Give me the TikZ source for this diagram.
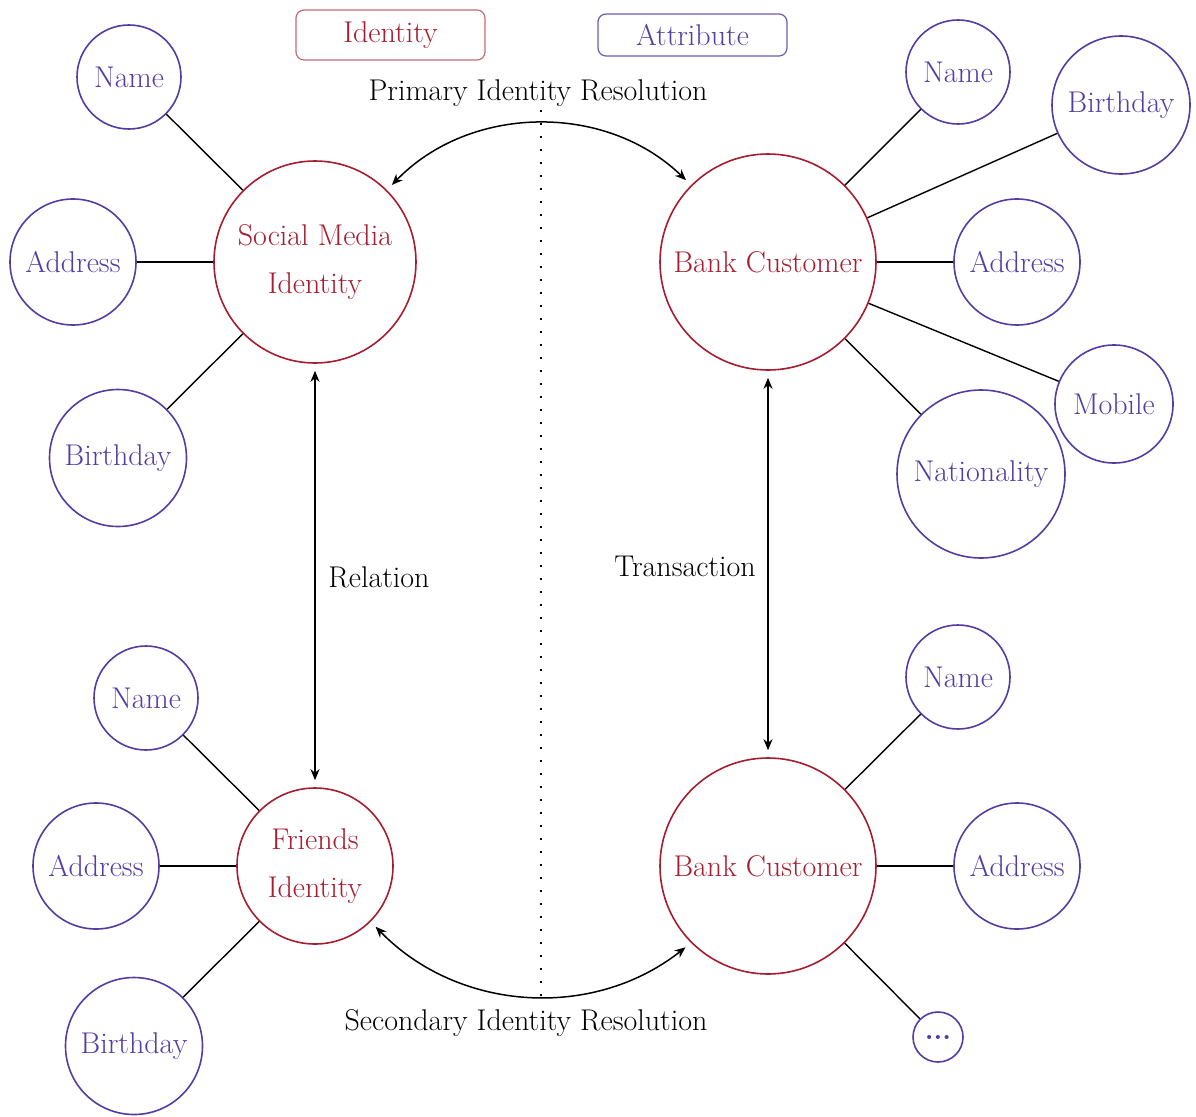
\documentclass[tikz,border=0pt]{standalone}
\usetikzlibrary{arrows.meta}
\definecolor{idred}{RGB}{166,28,48}
\definecolor{attrpurple}{RGB}{84,60,162}
\newcommand\bodyfont{\fontsize{30}{48}\selectfont}
\newcommand\morefont{\fontsize{28}{30}\selectfont\bfseries}
\begin{document}
\begin{tikzpicture}[x=1pt,y=-1pt,
  identity/.style={circle,draw=idred,text=idred,line width=1.6pt,inner sep=0pt,align=center,font=\bodyfont},
  attr/.style={circle,draw=attrpurple,text=attrpurple,line width=1.6pt,inner sep=0pt,font=\bodyfont},
  link/.style={line width=1.4pt},
  tip/.tip={Stealth[length=11pt,width=9pt,inset=3.5pt]},
  rel/.style={line width=1.5pt,tip-tip,shorten <=7pt,shorten >=7pt},
  caption/.style={font=\bodyfont,inner sep=0pt},
  legend/.style={rounded corners=8pt,line width=1.2pt,minimum width=189pt,font=\bodyfont}]
\useasboundingbox (0,0) rectangle (1196,1116);

% divider between the two sources
\coordinate (dtop) at (541,110);
\coordinate (dbot) at (541,1003);
\draw[line width=1.8pt,dash pattern=on 1.6pt off 11.4pt] (dtop) -- (dbot);

% legend
\node[legend,draw=idred!65,text=idred,minimum height=50pt] (legid) at (390.5,35) {Identity};
\node[legend,draw=attrpurple!85,text=attrpurple,minimum height=42pt] (legattr) at (692.5,35) {Attribute};

% identities
\node[identity,minimum size=202pt] (soc) at (315,262) {Social Media\\Identity};
\node[identity,minimum size=216pt] (bankA) at (768,262) {Bank Customer};
\node[identity,minimum size=156pt] (fri) at (315,866) {Friends\\Identity};
\node[identity,minimum size=216pt] (bankB) at (768,866) {Bank Customer};

% attributes of the social media identity
\node[attr,minimum size=104pt] (socname) at (129,77) {Name};
\node[attr,minimum size=126pt] (socaddr) at (73,262) {Address};
\node[attr,minimum size=137pt] (socbday) at (118,458) {Birthday};

% attributes of the first bank customer
\node[attr,minimum size=104pt] (baname) at (958,72) {Name};
\node[attr,minimum size=138pt] (babday) at (1121,105) {Birthday};
\node[attr,minimum size=126pt] (baaddr) at (1017,262) {Address};
\node[attr,minimum size=118pt] (bamob) at (1114,404) {Mobile};
\node[attr,minimum size=168pt] (banat) at (981,474) {Nationality};

% attributes of the friends identity
\node[attr,minimum size=104pt] (friname) at (146,698) {Name};
\node[attr,minimum size=126pt] (friaddr) at (96,866) {Address};
\node[attr,minimum size=137pt] (fribday) at (134,1046) {Birthday};

% attributes of the second bank customer
\node[attr,minimum size=104pt] (bbname) at (958,677) {Name};
\node[attr,minimum size=126pt] (bbaddr) at (1017,866) {Address};
\node[attr,minimum size=50pt,font=\morefont] (bbmore) at (938,1037) {...};

% attribute links
\draw[link] (soc) -- (socname);
\draw[link] (soc) -- (socaddr);
\draw[link] (soc) -- (socbday);
\draw[link] (bankA) -- (baname);
\draw[link] (bankA) -- (babday);
\draw[link] (bankA) -- (baaddr);
\draw[link] (bankA) -- (bamob);
\draw[link] (bankA) -- (banat);
\draw[link] (fri) -- (friname);
\draw[link] (fri) -- (friaddr);
\draw[link] (fri) -- (fribday);
\draw[link] (bankB) -- (bbname);
\draw[link] (bankB) -- (bbaddr);
\draw[link] (bankB) -- (bbmore);

% relations between identities
\draw[rel] (soc) -- (fri);
\draw[rel] (bankA) -- (bankB);
\draw[rel] (soc.45) to[bend left=45] (bankA.135);
\draw[rel] (fri.-45) to[bend right=42] (bankB.-135);

% captions
\node[caption] (primary) at (538,93) {Primary Identity Resolution};
\node[caption] (secondary) at (526,1023) {Secondary Identity Resolution};
\node[caption] (relation) at (379,577) {Relation};
\node[caption] (transaction) at (685,566) {Transaction};
\end{tikzpicture}
\end{document}
